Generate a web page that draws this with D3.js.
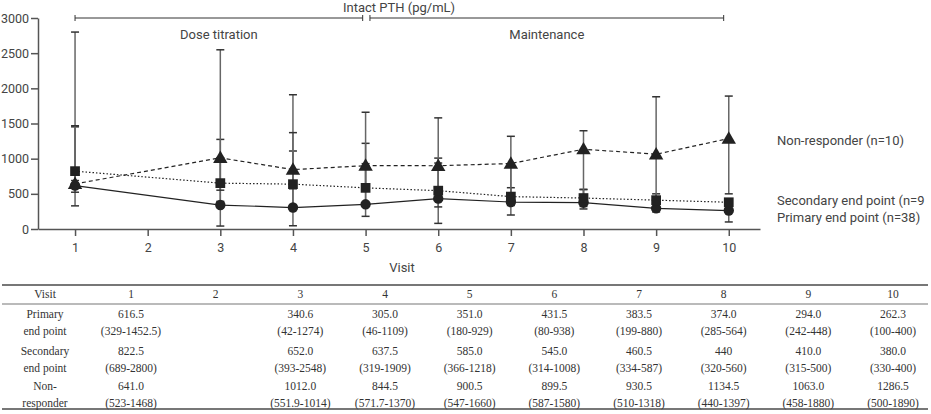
<!DOCTYPE html>
<html lang="en">
<head>
<meta charset="utf-8">
<title>Intact PTH by visit</title>
<style>
  body { margin: 0; background: #fff; }
  svg { display: block; }
  .lab { font-family: Roboto, "Noto Sans", sans-serif; font-size: 13px; fill: #444; }
  .tick-lab { font-size: 12.5px; }
  .tbl { font-family: "Liberation Serif", "DejaVu Serif", serif; font-size: 11.5px; fill: #333; }
</style>
</head>
<body>
<svg id="chart" width="931" height="414"></svg>
<script src="https://d3js.org/d3.v7.min.js"></script>
<script>
  const visits = [1, 2, 3, 4, 5, 6, 7, 8, 9, 10];
  const yTicks = [0, 500, 1000, 1500, 2000, 2500, 3000];

  // median and (min-max) as printed in the table; visit 2 has no data
  const primaryMed = ["616.5", null, "340.6", "305.0", "351.0", "431.5", "383.5", "374.0", "294.0", "262.3"];
  const primaryRange = ["329-1452.5", null, "42-1274", "46-1109", "180-929", "80-938", "199-880", "285-564", "242-448", "100-400"];
  const secondaryMed = ["822.5", null, "652.0", "637.5", "585.0", "545.0", "460.5", "440", "410.0", "380.0"];
  const secondaryRange = ["689-2800", null, "393-2548", "319-1909", "366-1218", "314-1008", "334-587", "320-560", "315-500", "330-400"];
  const nonMed = ["641.0", null, "1012.0", "844.5", "900.5", "899.5", "930.5", "1134.5", "1063.0", "1286.5"];
  const nonRange = ["523-1468", null, "551.9-1014", "571.7-1370", "547-1660", "587-1580", "510-1318", "440-1397", "458-1880", "500-1890"];

  const series = [
    { name: "Primary end point (n=38)", rowLabel: ["Primary", "end point"], med: primaryMed, range: primaryRange, dash: null, marker: "circle", labelY: 217 },
    { name: "Secondary end point (n=9", rowLabel: ["Secondary", "end point"], med: secondaryMed, range: secondaryRange, dash: "1.5,2", marker: "square", labelY: 200 },
    { name: "Non-responder (n=10)", rowLabel: ["Non-", "responder"], med: nonMed, range: nonRange, dash: "4,3", marker: "triangle", labelY: 140 }
  ];

  function points(s) {
    return visits.map((v, i) => {
      if (s.med[i] == null) return null;
      const r = s.range[i].split("-").map(Number);
      return { visit: v, med: +s.med[i], lo: r[0], hi: r[1] };
    }).filter(d => d);
  }

  const svg = d3.select("#chart");
  const x = d3.scaleLinear().domain([0.49, 10.43]).range([38, 760]);
  const y = d3.scaleLinear().domain([0, 3000]).range([229, 18]);

  // axes
  const yAxis = svg.append("g").attr("transform", "translate(38,0)")
    .call(d3.axisLeft(y).tickValues(yTicks).tickFormat(d3.format("d"))
      .tickSize(7).tickSizeOuter(0).tickPadding(2));
  const xAxis = svg.append("g").attr("transform", "translate(0,229)")
    .call(d3.axisBottom(x).tickValues(visits).tickFormat(d3.format("d"))
      .tickSize(7).tickSizeOuter(0).tickPadding(5));
  [yAxis, xAxis].forEach(g => {
    g.attr("font-family", null).attr("font-size", null);
    g.selectAll("path, line").attr("stroke", "#555").attr("stroke-width", 1.5);
    g.selectAll("text").attr("class", "lab tick-lab").attr("fill", null);
  });
  xAxis.selectAll("text").attr("dy", "0.9em");

  svg.append("text").attr("class", "lab").attr("x", 402).attr("y", 272)
    .attr("text-anchor", "middle").text("Visit");

  // phase brackets
  const brackets = [
    { label: "Dose titration", from: 1, to: 4.96 },
    { label: "Maintenance", from: 5.06, to: 9.93 }
  ];
  brackets.forEach(b => {
    const g = svg.append("g").attr("stroke", "#333").attr("stroke-width", 1);
    g.append("line").attr("x1", x(b.from)).attr("x2", x(b.to)).attr("y1", 18).attr("y2", 18);
    [b.from, b.to].forEach(v => g.append("line").attr("x1", x(v)).attr("x2", x(v)).attr("y1", 15).attr("y2", 21));
    svg.append("text").attr("class", "lab").attr("x", x((b.from + b.to) / 2)).attr("y", 39)
      .attr("text-anchor", "middle").text(b.label);
  });
  svg.append("text").attr("class", "lab").attr("x", 399).attr("y", 12)
    .attr("text-anchor", "middle").text("Intact PTH (pg/mL)");

  // error bars
  series.forEach(s => {
    const g = svg.append("g").attr("stroke", "#666").attr("stroke-width", 1.5);
    points(s).forEach(d => {
      g.append("line").attr("x1", x(d.visit)).attr("x2", x(d.visit)).attr("y1", y(d.lo)).attr("y2", y(d.hi));
      [d.lo, d.hi].forEach(v => g.append("line").attr("stroke", "#333")
        .attr("x1", x(d.visit) - 4).attr("x2", x(d.visit) + 4).attr("y1", y(v)).attr("y2", y(v)));
    });
  });

  // lines and markers
  const line = d3.line().x(d => x(d.visit)).y(d => y(d.med));
  series.forEach(s => {
    const pts = points(s);
    svg.append("path").datum(pts).attr("d", line).attr("fill", "none")
      .attr("stroke", "#222").attr("stroke-width", 1.2)
      .attr("stroke-dasharray", s.dash);
    const sym = s.marker === "circle" ? d3.symbolCircle : s.marker === "square" ? d3.symbolSquare : d3.symbolTriangle;
    const size = s.marker === "circle" ? 85 : s.marker === "square" ? 95 : 90;
    svg.append("g").selectAll("path").data(pts).join("path")
      .attr("transform", d => `translate(${x(d.visit)},${y(d.med) + (s.marker === "triangle" ? 1 : 0)})`)
      .attr("d", d3.symbol().type(sym).size(size))
      .attr("fill", "#222");
    svg.append("text").attr("class", "lab").attr("x", 777).attr("y", s.labelY)
      .attr("dy", "0.35em").text(s.name);
  });

  // table
  const colX = d3.scalePoint().domain(visits).range([131, 893]);
  const tbl = svg.append("g");
  [[285, 2], [304, 1.2], [409, 2]].forEach(([ly, w]) =>
    tbl.append("line").attr("x1", 2).attr("x2", 928).attr("y1", ly).attr("y2", ly)
      .attr("stroke", "#777").attr("stroke-width", w));
  tbl.append("text").attr("class", "tbl").attr("x", 45).attr("y", 298).attr("text-anchor", "middle").text("Visit");
  visits.forEach(v => tbl.append("text").attr("class", "tbl").attr("x", colX(v)).attr("y", 298)
    .attr("text-anchor", "middle").text(v));

  const rowTop = [318, 355, 390];
  series.forEach((s, ri) => {
    const y0 = rowTop[ri];
    s.rowLabel.forEach((t, k) => tbl.append("text").attr("class", "tbl").attr("x", 45).attr("y", y0 + k * 17)
      .attr("text-anchor", "middle").text(t));
    visits.forEach((v, i) => {
      if (s.med[i] == null) return;
      tbl.append("text").attr("class", "tbl").attr("x", colX(v)).attr("y", y0).attr("text-anchor", "middle").text(s.med[i]);
      tbl.append("text").attr("class", "tbl").attr("x", colX(v)).attr("y", y0 + 17).attr("text-anchor", "middle").text("(" + s.range[i] + ")");
    });
  });
</script>
</body>
</html>
